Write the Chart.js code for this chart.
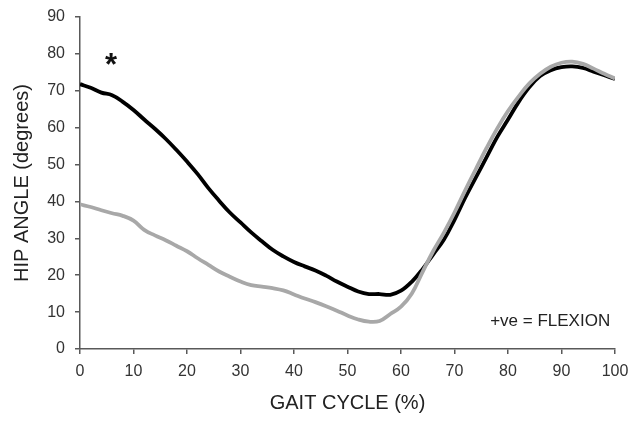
<!DOCTYPE html>
<html>
<head>
<meta charset="utf-8">
<script src="https://cdn.jsdelivr.net/npm/chart.js@4/dist/chart.umd.min.js"></script>
<style>
  html, body { margin: 0; padding: 0; background: #fff; }
  #wrap { width: 634px; height: 421px; }
</style>
</head>
<body>
<div id="wrap"><canvas id="chart" width="634" height="421"></canvas></div>
<script>
'use strict';

/*** DATA ***/

// percent of gait cycle
var gaitPct = [0, 2, 4, 6, 8, 10, 12, 14, 16, 18, 20, 22, 24, 26, 28, 30, 32, 34, 36, 38, 40,
  42, 44, 46, 48, 50, 52, 54, 56, 58, 60, 62, 64, 66, 68, 70, 72, 74, 76, 78, 80,
  82, 84, 86, 88, 90, 92, 94, 96, 98, 100];

// black curve (hip angle, degrees)
var blackAngle = [71.8, 70.8, 69.5, 68.8, 67.0, 64.8, 62.2, 59.7, 57.0, 54.0, 50.8,
  47.4, 43.6, 40.2, 37.0, 34.3, 31.6, 29.2, 26.9, 25.1, 23.6,
  22.4, 21.3, 19.9, 18.3, 16.9, 15.6, 14.9, 14.9, 14.7, 15.8,
  18.2, 21.6, 25.6, 29.6, 35.0, 41.0, 46.5, 52.0, 57.5, 62.2,
  67.0, 71.0, 74.0, 75.6, 76.4, 76.6, 76.2, 75.2, 74.2, 73.2];

// grey curve (hip angle, degrees)
var greyAngle = [39.2, 38.5, 37.6, 36.8, 36.1, 34.8, 32.3, 30.8, 29.5, 28.0, 26.5,
  24.6, 22.8, 21.0, 19.6, 18.3, 17.3, 16.9, 16.5, 15.9, 14.8,
  13.7, 12.7, 11.6, 10.4, 9.1, 8.0, 7.4, 7.6, 9.5, 11.5,
  15.0, 20.8, 26.5, 31.5, 37.0, 43.0, 48.8, 54.5, 59.8, 64.5,
  68.5, 72.0, 74.6, 76.5, 77.6, 77.9, 77.3, 76.0, 74.6, 73.3];

var xTicks = [0, 10, 20, 30, 40, 50, 60, 70, 80, 90, 100];
var yTicks = [0, 10, 20, 30, 40, 50, 60, 70, 80, 90];

/*** HELPERS ***/

// pair the x values with a series for a linear x scale
function toPoints(values) {
  var pts = [];
  for (var i = 0; i < gaitPct.length; i++) {
    pts.push({ x: gaitPct[i], y: values[i] });
  }
  return pts;
}

// forces the listed tick values
function fixedTicks(list) {
  return function(scale) {
    scale.ticks = list.map(function(v) { return { value: v }; });
  };
}

// asterisk and the flexion note
var notesPlugin = {
  id: 'notes',
  afterDraw: function(chart) {
    var ctx = chart.ctx;
    var xs = chart.scales.x;
    var ys = chart.scales.y;
    ctx.save();
    ctx.fillStyle = '#111';
    ctx.font = 'bold 31px "Liberation Sans", Arial, sans-serif';
    ctx.textAlign = 'center';
    ctx.textBaseline = 'middle';
    ctx.fillText('*', xs.getPixelForValue(5.8), ys.getPixelForValue(76.5));

    ctx.fillStyle = '#222';
    ctx.font = '17px "Liberation Sans", Arial, sans-serif';
    ctx.textAlign = 'right';
    ctx.fillText('+ve = FLEXION', xs.getPixelForValue(99.1), ys.getPixelForValue(7.6));
    ctx.restore();
  }
};

/*** CHART ***/

var axisColor = '#595959';
var textColor = '#333';
var fontFamily = '"Liberation Sans", Arial, sans-serif';

var ctx = document.getElementById('chart').getContext('2d');
var chart = new Chart(ctx, {
  type: 'line',
  data: {
    datasets: [{
      label: 'grey',
      data: toPoints(greyAngle),
      borderColor: '#a8a8a8',
      borderWidth: 3.8,
      pointRadius: 0,
      tension: 0.4,
      order: 0
    }, {
      label: 'black',
      data: toPoints(blackAngle),
      borderColor: '#000',
      borderWidth: 3.8,
      pointRadius: 0,
      tension: 0.4,
      order: 1
    }]
  },
  options: {
    responsive: false,
    animation: false,
    layout: { padding: { top: 17, right: 19, left: 0, bottom: 0 } },
    plugins: {
      legend: { display: false },
      tooltip: { enabled: false }
    },
    scales: {
      x: {
        type: 'linear',
        min: 0,
        max: 100,
        afterBuildTicks: fixedTicks(xTicks),
        // fixed box so the plot area lands where the original has it
        afterFit: function(scale) {
          scale.height = 72;
          scale.paddingLeft = 0;
          scale.paddingRight = 0;
        },
        grid: { drawOnChartArea: false, tickLength: 5, color: axisColor, lineWidth: 1.5 },
        border: { color: axisColor, width: 1.5 },
        ticks: { color: textColor, padding: 8, maxRotation: 0, font: { family: fontFamily, size: 16 } },
        title: {
          display: true,
          text: 'GAIT CYCLE (%)',
          color: '#222',
          font: { family: fontFamily, size: 20 },
          padding: { top: 0, bottom: 6 }
        }
      },
      y: {
        min: 0,
        max: 90,
        afterBuildTicks: fixedTicks(yTicks),
        afterFit: function(scale) {
          scale.width = 80;
          scale.paddingTop = 0;
          scale.paddingBottom = 0;
        },
        grid: { drawOnChartArea: false, tickLength: 5, color: axisColor, lineWidth: 1.5 },
        border: { color: axisColor, width: 1.5 },
        ticks: { color: textColor, padding: 10, font: { family: fontFamily, size: 16 } },
        title: {
          display: true,
          text: 'HIP ANGLE (degrees)',
          color: '#222',
          font: { family: fontFamily, size: 20 },
          padding: { top: 10, bottom: 0 }
        }
      }
    }
  },
  plugins: [notesPlugin]
});
</script>
</body>
</html>
